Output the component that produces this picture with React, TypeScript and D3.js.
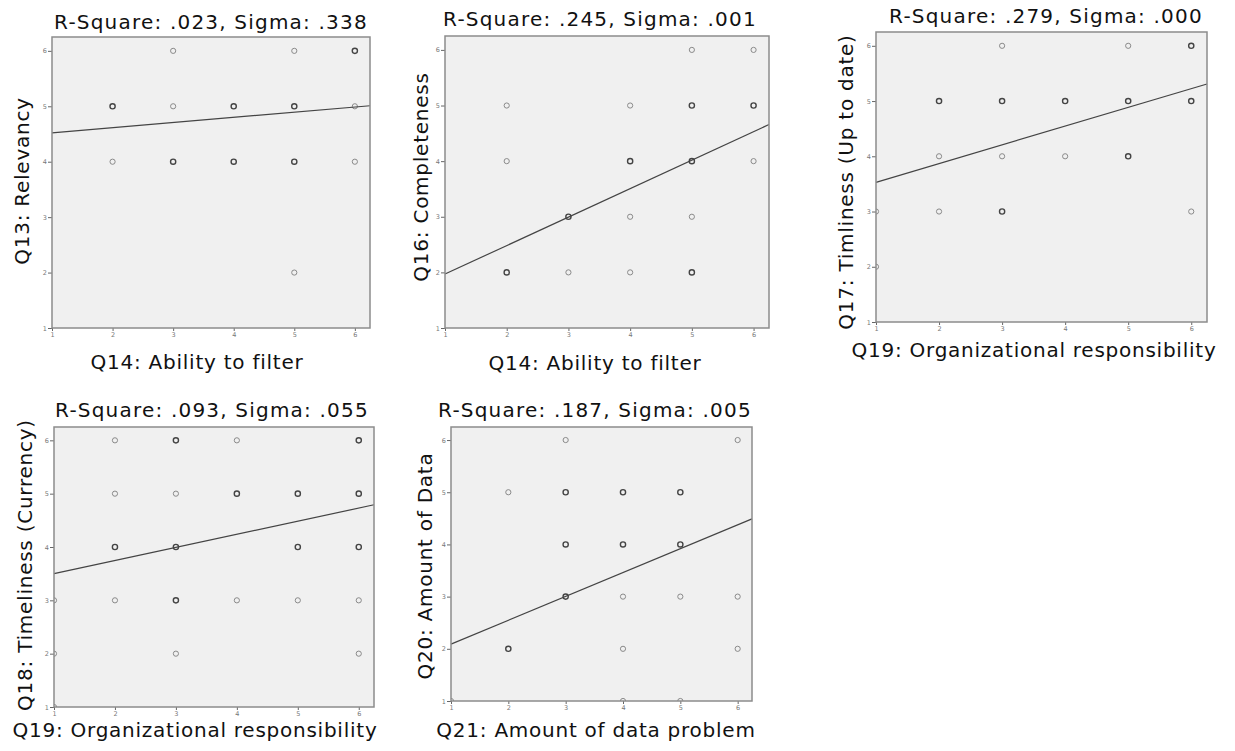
import React, { useEffect, useRef } from 'react';
import * as d3 from 'd3';

// tick values shared by every panel
const xTicks = [1, 2, 3, 4, 5, 6];
const yTicks = [1, 2, 3, 4, 5, 6];

const titles = [
  'R-Square: .023, Sigma: .338',
  'R-Square: .245, Sigma: .001',
  'R-Square: .279, Sigma: .000',
  'R-Square: .093, Sigma: .055',
  'R-Square: .187, Sigma: .005',
];
const xLabels = [
  'Q14: Ability to filter',
  'Q14: Ability to filter',
  'Q19: Organizational responsibility',
  'Q19: Organizational responsibility',
  'Q21: Amount of data problem',
];
const yLabels = [
  'Q13: Relevancy',
  'Q16: Completeness',
  'Q17: Timliness (Up to date)',
  'Q18: Timeliness (Currency)',
  'Q20: Amount of Data',
];

// [x, y, overlap count]
const relevancyPts = [
  [2, 5, 2], [2, 4, 1], [3, 6, 1], [3, 5, 1], [3, 4, 2], [4, 5, 2], [4, 4, 2],
  [5, 6, 1], [5, 5, 2], [5, 4, 2], [5, 2, 1], [6, 6, 2], [6, 5, 1], [6, 4, 1],
];
const completenessPts = [
  [2, 5, 1], [2, 4, 1], [2, 2, 2], [3, 3, 2], [3, 2, 1], [4, 5, 1], [4, 4, 2],
  [4, 3, 1], [4, 2, 1], [5, 6, 1], [5, 5, 2], [5, 4, 2], [5, 3, 1], [5, 2, 2],
  [6, 6, 1], [6, 5, 2], [6, 4, 1],
];
const upToDatePts = [
  [1, 3, 1], [1, 2, 1], [2, 5, 2], [2, 4, 1], [2, 3, 1], [3, 6, 1], [3, 5, 2],
  [3, 4, 1], [3, 3, 2], [4, 5, 2], [4, 4, 1], [5, 6, 1], [5, 5, 2], [5, 4, 2],
  [6, 6, 2], [6, 5, 2], [6, 3, 1],
];
const currencyPts = [
  [1, 3, 1], [1, 2, 1], [1, 1, 1], [2, 6, 1], [2, 5, 1], [2, 4, 2], [2, 3, 1],
  [3, 6, 2], [3, 5, 1], [3, 4, 2], [3, 3, 2], [3, 2, 1], [4, 6, 1], [4, 5, 2],
  [4, 3, 1], [5, 5, 2], [5, 4, 2], [5, 3, 1], [6, 6, 2], [6, 5, 2], [6, 4, 2],
  [6, 3, 1], [6, 2, 1],
];
const amountPts = [
  [1, 1, 1], [2, 5, 1], [2, 2, 2], [3, 6, 1], [3, 5, 2], [3, 4, 2], [3, 3, 2],
  [4, 5, 2], [4, 4, 2], [4, 3, 1], [4, 2, 1], [4, 1, 1], [5, 5, 2], [5, 4, 2],
  [5, 3, 1], [5, 1, 1], [6, 6, 1], [6, 3, 1], [6, 2, 1],
];

// linear fit lines
const intercepts = [4.427, 1.458, 3.19, 3.254, 1.633];
const slopes = [0.0933, 0.512, 0.339, 0.246, 0.457];

const pointSets = [relevancyPts, completenessPts, upToDatePts, currencyPts, amountPts];

// panel layout (frame edges, title / label anchors)
const layout = [
  { l: 52, t: 37, r: 370, b: 328, tx: 211, ty: 29, xlx: 197, xly: 369, ylx: 22, yly: 181 },
  { l: 445, t: 36, r: 769, b: 328, tx: 600, ty: 26, xlx: 595, xly: 370, ylx: 421, yly: 177 },
  { l: 876, t: 32, r: 1207, b: 322, tx: 1046, ty: 23, xlx: 1034, xly: 357, ylx: 846, yly: 182 },
  { l: 54, t: 427, r: 374, b: 707, tx: 212, ty: 417, xlx: 195, xly: 737, ylx: 25, yly: 565 },
  { l: 451, t: 427, r: 752, b: 701, tx: 595, ty: 417, xlx: 596, xly: 737, ylx: 425, yly: 566 },
];

const W = 1235;
const H = 751;
const font = "'DejaVu Sans', Verdana, sans-serif";

const App = () => {
  const svgRef = useRef<SVGSVGElement>(null);

  useEffect(() => {
    const svg = d3.select(svgRef.current);
    svg.selectAll('*').remove();

    svg.append('rect').attr('width', W).attr('height', H).attr('fill', '#fff');

    layout.forEach((p, i) => {
      const x = d3.scaleLinear().domain([1, 6.25]).range([p.l, p.r]);
      const y = d3.scaleLinear().domain([1, 6.25]).range([p.b, p.t]);
      const g = svg.append('g');

      const clipId = `clip${i}`;
      g.append('clipPath').attr('id', clipId)
        .append('rect')
        .attr('x', p.l).attr('y', p.t)
        .attr('width', p.r - p.l).attr('height', p.b - p.t);

      g.append('rect')
        .attr('x', p.l).attr('y', p.t)
        .attr('width', p.r - p.l).attr('height', p.b - p.t)
        .attr('fill', '#f0f0f0');

      // axes
      const xAxis = g.append('g')
        .attr('transform', `translate(0,${p.b})`)
        .call(d3.axisBottom(x).tickValues(xTicks).tickSize(3).tickPadding(1).tickFormat(d3.format('d')));
      const yAxis = g.append('g')
        .attr('transform', `translate(${p.l},0)`)
        .call(d3.axisLeft(y).tickValues(yTicks).tickSize(4).tickPadding(1).tickFormat(d3.format('d')));
      [xAxis, yAxis].forEach(a => {
        a.select('.domain').remove();
        a.selectAll('line').attr('stroke', '#666');
        a.selectAll('text').attr('fill', '#777').style('font-size', '6.5px').style('font-family', font);
      });

      // points
      g.append('g')
        .attr('clip-path', `url(#${clipId})`)
        .selectAll('circle')
        .data(pointSets[i])
        .join('circle')
        .attr('cx', d => x(d[0]))
        .attr('cy', d => y(d[1]))
        .attr('r', 2.6)
        .attr('fill', 'none')
        .attr('stroke', d => (d[2] > 1 ? '#444' : '#8a8a8a'))
        .attr('stroke-width', d => (d[2] > 1 ? 1.4 : 1));

      // fit line
      const line = d3.line<number>().x(v => x(v)).y(v => y(intercepts[i] + slopes[i] * v));
      g.append('path')
        .datum([1, 6.25])
        .attr('d', line)
        .attr('fill', 'none')
        .attr('stroke', '#444')
        .attr('stroke-width', 1.2);

      // frame
      g.append('rect')
        .attr('x', p.l).attr('y', p.t)
        .attr('width', p.r - p.l).attr('height', p.b - p.t)
        .attr('fill', 'none')
        .attr('stroke', '#8c8c8c')
        .attr('stroke-width', 1.5);

      const txt = (s: string, ls: number) => g.append('text')
        .text(s)
        .attr('text-anchor', 'middle')
        .attr('fill', '#111')
        .style('font-family', font)
        .style('font-size', '20px')
        .style('letter-spacing', `${ls}px`);

      txt(titles[i], 1.2).attr('x', p.tx).attr('y', p.ty);
      txt(xLabels[i], 0.75).attr('x', p.xlx).attr('y', p.xly);
      txt(yLabels[i], 0.75)
        .attr('dominant-baseline', 'central')
        .attr('transform', `translate(${p.ylx},${p.yly}) rotate(-90)`);
    });
  }, []);

  return (
    <svg
      ref={svgRef}
      width={W}
      height={H}
      style={{ position: 'absolute', left: 0, top: 0 }}
    />
  );
};

export default App;
